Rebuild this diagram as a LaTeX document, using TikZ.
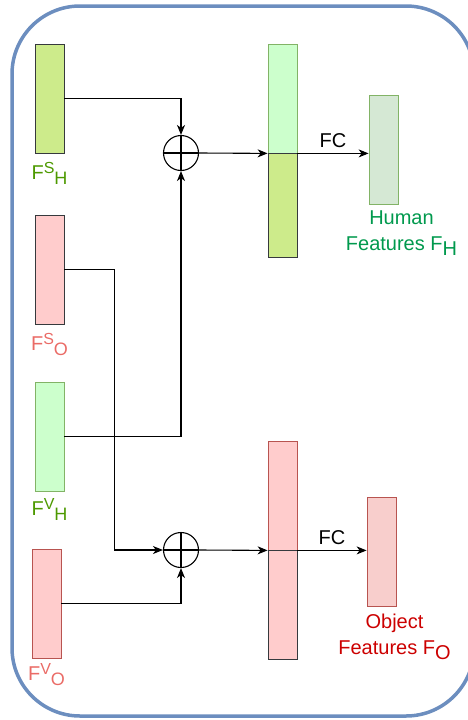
\documentclass[tikz,border=0pt]{standalone}
\usepackage{fontspec}
\setmainfont{Liberation Sans}
\usetikzlibrary{arrows.meta, positioning}

\definecolor{frameblue}{HTML}{6C8EBF}
\definecolor{darkline}{HTML}{36393D}
\definecolor{limefill}{HTML}{CDEB8B}
\definecolor{mintfill}{HTML}{CCFFCC}
\definecolor{mintline}{HTML}{82B366}
\definecolor{pinkfill}{HTML}{FFCCCC}
\definecolor{pinkline}{HTML}{B85450}
\definecolor{sagefill}{HTML}{D5E8D4}
\definecolor{rosefill}{HTML}{F8CECC}
\definecolor{humtxt}{HTML}{4D9900}
\definecolor{objtxt}{HTML}{EA6B66}
\definecolor{hfeattxt}{HTML}{00994D}
\definecolor{ofeattxt}{HTML}{CC0000}

\newcommand{\featname}[2]{F\raisebox{6pt}{\fontsize{16}{16}\selectfont #1}\raisebox{-5pt}{\fontsize{18}{18}\selectfont #2}}

\begin{document}
\begin{tikzpicture}[x=1pt, y=-1pt,
        bar/.style = {draw, line width=0.8pt, minimum width=29pt, minimum height=109pt, inner sep=0pt},
        oplus/.style = {draw, circle, line width=1.1pt, minimum size=35pt, inner sep=0pt,
            path picture={\draw[line width=1.1pt] (path picture bounding box.north) -- (path picture bounding box.south)
              (path picture bounding box.west) -- (path picture bounding box.east);}},
        conn/.style = {line width=1.1pt, -{Stealth[length=10pt, width=8pt, inset=3pt]}},
        flbl/.style = {font=\fontsize{20}{24}\selectfont, inner sep=0pt},
        outlbl/.style = {font=\fontsize{20}{26}\selectfont, inner sep=0pt, align=center},
      ]
      \useasboundingbox (0,0) rectangle (468,720);
      \draw[frameblue, line width=3.5pt, rounded corners=68pt] (12,6) rectangle (474,716);

      % input features
      \node[bar, fill=limefill, draw=darkline] (sh) at (49.5,98.5) {};
      \node[bar, fill=pinkfill, draw=darkline] (so) at (49.5,269.5) {};
      \node[bar, fill=mintfill, draw=mintline] (vh) at (49.5,436.5) {};
      \node[bar, fill=pinkfill, draw=pinkline] (vo) at (46.5,603.5) {};
      \node[flbl, text=humtxt, below=9pt of sh] {\featname{S}{H}};
      \node[flbl, text=objtxt, below=9pt of so] {\featname{S}{O}};
      \node[flbl, text=humtxt, below=7pt of vh] {\featname{V}{H}};
      \node[flbl, text=objtxt, below=5pt of vo] {\featname{V}{O}};

      % sums
      \node[oplus] (addH) at (181,153) {};
      \node[oplus] (addO) at (181,550) {};

      % concatenated
      \node[bar, fill=mintfill, draw=mintline] (catHa) at (282.5,98.5) {};
      \node[bar, fill=limefill, draw=darkline, minimum height=104pt, below=0pt of catHa] (catHb) {};
      \node[bar, fill=pinkfill, draw=pinkline] (catOa) at (282.5,495.5) {};
      \node[bar, fill=pinkfill, draw=darkline, below=0pt of catOa] (catOb) {};

      % outputs
      \node[bar, fill=sagefill, draw=mintline] (hf) at (383.5,149.5) {};
      \node[bar, fill=rosefill, draw=pinkline] (of) at (381.5,551.5) {};
      \node[outlbl, text=hfeattxt, below=6pt of hf, xshift=18pt] {Human\\Features F\raisebox{-5pt}{H}};
      \node[outlbl, text=ofeattxt, below=7pt of of, xshift=13pt] {Object\\Features F\raisebox{-5pt}{O}};

      \draw[conn] (sh.east) -| (addH.north);
      \draw[conn] (vh.east) -| (addH.south);
      \draw[conn] (addH.east) -- (catHa.south west);
      \draw[conn] (catHa.south east) -- (catHa.south east -| hf.west) node[midway, above=5pt, flbl] {FC};
      \draw[conn] (so.east) -- ++(50,0) |- (addO.west);
      \draw[conn] (vo.east) -| (addO.south);
      \draw[conn] (addO.east) -- (catOa.south west);
      \draw[conn] (catOa.south east) -- (catOa.south east -| of.west) node[midway, above=5pt, flbl] {FC};
    \end{tikzpicture}
\end{document}
